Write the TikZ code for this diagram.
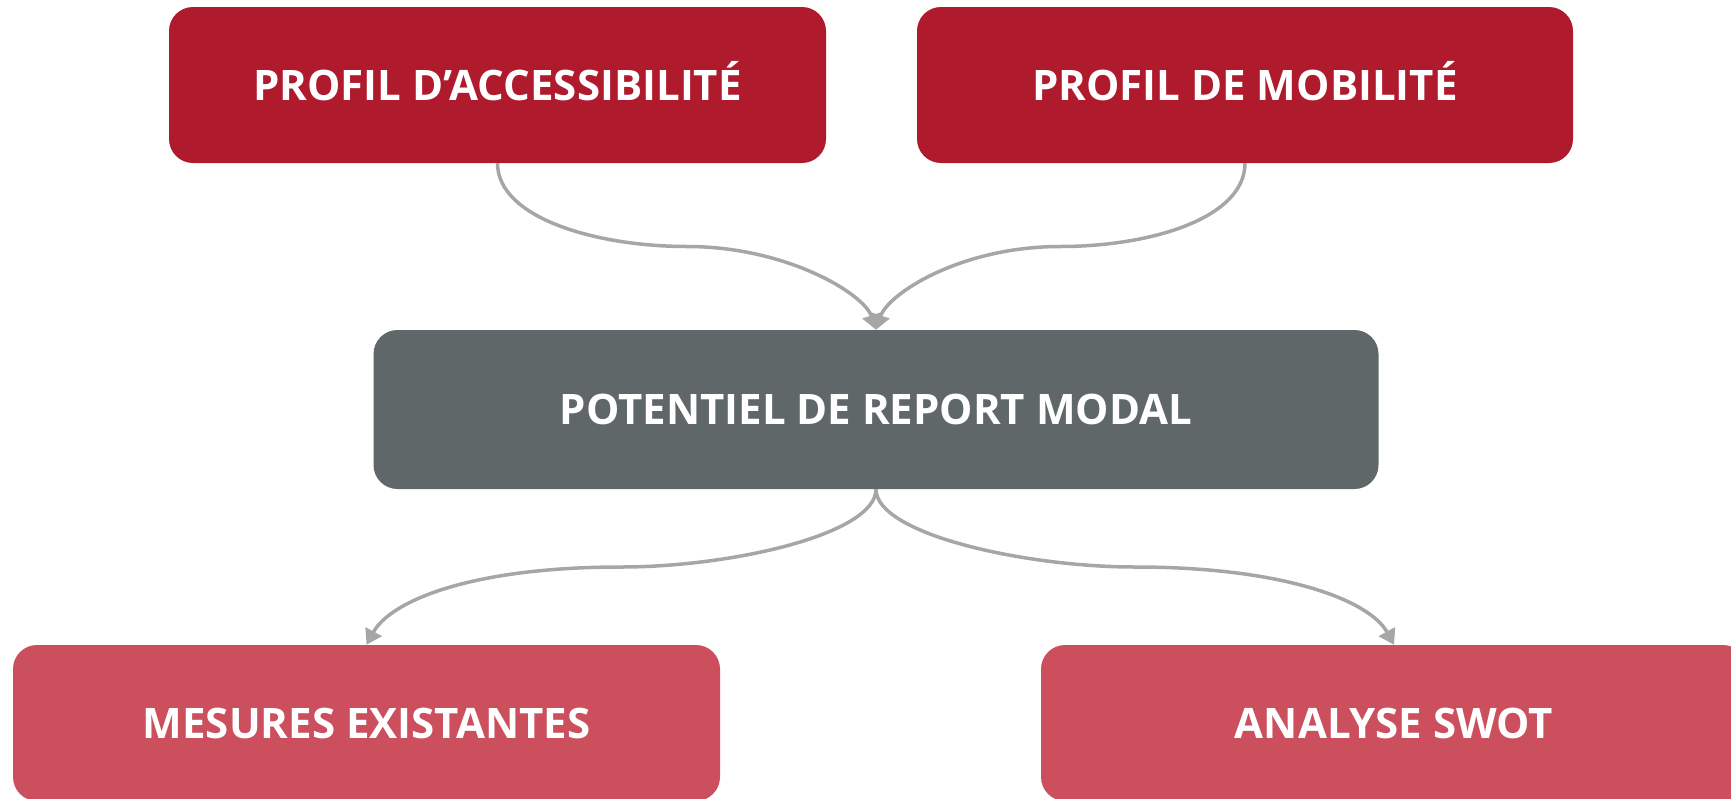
\documentclass[tikz,border=0pt]{standalone}
\usepackage{fontspec}
\setmainfont{Open Sans}
\usetikzlibrary{arrows.meta,calc}
\definecolor{darkred}{HTML}{AF1A2D}
\definecolor{lightred}{HTML}{CC4F5E}
\definecolor{slate}{HTML}{5F6769}
\definecolor{linkgray}{HTML}{A6A6A6}
\tikzset{
  box/.style={rectangle, rounded corners=24pt, text=white, inner sep=0pt,
    font=\fontsize{42}{42}\selectfont\bfseries, minimum height=156pt,
    text height=30pt, text depth=0pt},
  link/.style={draw=linkgray, line width=3.5pt, -{Triangle[width=18pt,length=15pt]}}
}
\begin{document}
\begin{tikzpicture}[x=1pt,y=-1pt]
\useasboundingbox (0,0) rectangle (1731,798);
\clip (0,0) rectangle (1731,798);
\node[box, fill=darkred, minimum width=657pt] (b1) at (497.5,85) {PROFIL D’ACCESSIBILITÉ};
\node[box, fill=darkred, minimum width=656pt] (b2) at (1245,85) {PROFIL DE MOBILITÉ};
\node[box, fill=slate, minimum width=1005pt, minimum height=159pt] (mid) at (876,409.5) {POTENTIEL DE REPORT MODAL};
\node[box, fill=lightred, minimum width=707pt] (b3) at (366.5,723) {MESURES EXISTANTES};
\node[box, fill=lightred, minimum width=706pt] (b4) at (1394,723) {ANALYSE SWOT};
\coordinate (m1) at ($(b1.south)!0.5!(mid.north)$);
\coordinate (m2) at ($(b2.south)!0.5!(mid.north)$);
\coordinate (m3) at ($(mid.south)!0.5!(b3.north)$);
\coordinate (m4) at ($(mid.south)!0.5!(b4.north)$);
\draw[link] (b1.south) .. controls +(0,55) and +(-90,0) .. (m1) .. controls +(100,0) and +(-12,-36) .. (mid.north);
\draw[link] (b2.south) .. controls +(0,55) and +(90,0) .. (m2) .. controls +(-100,0) and +(12,-36) .. (mid.north);
\draw[link] (mid.south) .. controls +(0,45) and +(110,0) .. (m3) .. controls +(-150,0) and +(24,-44) .. (b3.north);
\draw[link] (mid.south) .. controls +(0,45) and +(-110,0) .. (m4) .. controls +(150,0) and +(-24,-44) .. (b4.north);
\end{tikzpicture}
\end{document}
